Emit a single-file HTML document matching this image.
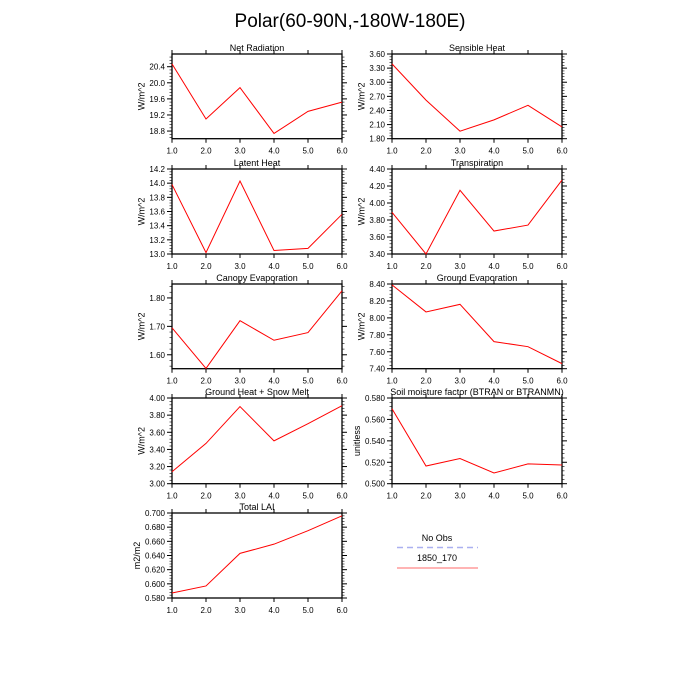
<!DOCTYPE html>
<html><head><meta charset="utf-8"><style>
html,body{margin:0;padding:0;background:#fff;}
svg{display:block;font-family:"Liberation Sans",sans-serif;}
</style></head><body>
<svg id="chart" width="700" height="700" viewBox="0 0 700 700">
<text x="350" y="27" text-anchor="middle" font-size="19">Polar(60-90N,-180W-180E)</text>
<g>
<text x="437" y="541" text-anchor="middle" font-size="9">No Obs</text>
<line x1="397" y1="547.5" x2="478" y2="547.5" stroke="#aab0f0" stroke-width="1.5" stroke-dasharray="6,4"/>
<text x="437" y="561" text-anchor="middle" font-size="9">1850_170</text>
<line x1="397" y1="568" x2="478" y2="568" stroke="#f88" stroke-width="1.2"/>
</g>
</svg>
<script>
const xCats=[1,2,3,4,5,6];
const xTickLabels=["1.0","2.0","3.0","4.0","5.0","6.0"];
const panelTitles=["Net Radiation","Sensible Heat","Latent Heat","Transpiration","Canopy Evaporation","Ground Evaporation","Ground Heat + Snow Melt","Soil moisture factor (BTRAN or BTRANMN)","Total LAI"];
const panelUnits=["W/m^2","W/m^2","W/m^2","W/m^2","W/m^2","W/m^2","W/m^2","unitless","m2/m2"];
const netRad=[20.47,19.10,19.88,18.74,19.29,19.52];
const sensible=[3.39,2.62,1.96,2.20,2.51,2.05];
const latent=[13.98,13.02,14.03,13.05,13.08,13.56];
const transp=[3.89,3.40,4.15,3.67,3.74,4.27];
const canopy=[1.695,1.552,1.720,1.651,1.678,1.825];
const groundEvap=[8.39,8.07,8.16,7.72,7.66,7.46];
const groundHeat=[3.14,3.47,3.90,3.50,3.70,3.91];
const soilMoist=[0.570,0.5165,0.5235,0.510,0.5185,0.5175];
const totalLai=[0.587,0.597,0.643,0.656,0.675,0.696];
const yMins=[18.61,1.80,13.0,3.40,1.551,7.40,3.0,0.50,0.58];
const yMaxs=[20.716,3.60,14.2,4.40,1.849,8.40,4.0,0.58,0.70];
const yTickVals=[[18.8,19.2,19.6,20.0,20.4],[1.8,2.1,2.4,2.7,3.0,3.3,3.6],[13.0,13.2,13.4,13.6,13.8,14.0,14.2],[3.4,3.6,3.8,4.0,4.2,4.4],[1.6,1.7,1.8],[7.4,7.6,7.8,8.0,8.2,8.4],[3.0,3.2,3.4,3.6,3.8,4.0],[0.50,0.52,0.54,0.56,0.58],[0.58,0.60,0.62,0.64,0.66,0.68,0.70]];
const yTickDec=[1,2,1,2,2,2,2,3,3];
const series=[netRad,sensible,latent,transp,canopy,groundEvap,groundHeat,soilMoist,totalLai];
const slugs=["net-radiation","sensible-heat","latent-heat","transpiration","canopy-evaporation","ground-evaporation","ground-heat","soil-moisture","total-lai"];

const svg=document.getElementById('chart');
const NS='http://www.w3.org/2000/svg';
const colX=[[172,342],[392,562]];
const rowY=[[54,138.7],[169,254],[284,368.7],[398,483.7],[513,598]];
function mk(tag,attrs,parent){const e=document.createElementNS(NS,tag);for(const k in attrs)e.setAttribute(k,attrs[k]);parent.appendChild(e);return e;}

for(let p=0;p<9;p++){
  const [x0,x1]=colX[p%2];const [y0,y1]=rowY[Math.floor(p/2)];
  const g=mk('g',{},svg);
  
  
  const sx=v=>x0+(v-1)/5*(x1-x0);
  const sy=v=>y1-(v-yMins[p])/(yMaxs[p]-yMins[p])*(y1-y0);
  const t=mk('text',{x:(x0+x1)/2,y:y0-3,'text-anchor':'middle','font-size':'9'},g);
  t.textContent=panelTitles[p];
  
  
  for(let i=0;i<xCats.length;i++){
    const x=sx(xCats[i]);
    mk('line',{x1:x,y1:y1,x2:x,y2:y1+4,stroke:'#000','stroke-width':1},g);
    mk('line',{x1:x,y1:y0,x2:x,y2:y0-4,stroke:'#000','stroke-width':1},g);
    const tl=mk('text',{x:x,y:y1+15,'text-anchor':'middle','font-size':'8'},g);
    tl.textContent=xTickLabels[i];
    
    
  }
  const tv=yTickVals[p];
  const step=tv[1]-tv[0];
  let maxW=0;
  for(let i=0;i<tv.length;i++){
    const y=sy(tv[i]);
    mk('line',{x1:x0,y1:y,x2:x0-5,y2:y,stroke:'#000','stroke-width':1},g);
    mk('line',{x1:x1,y1:y,x2:x1+5,y2:y,stroke:'#000','stroke-width':1},g);
    const tl=mk('text',{x:x0-7,y:y+3,'text-anchor':'end','font-size':'8'},g);
    tl.textContent=tv[i].toFixed(yTickDec[p]);
    
    
    maxW=Math.max(maxW,tl.getComputedTextLength());
  }
  const yl=mk('text',{x:0,y:0,'text-anchor':'middle','font-size':'9',transform:`translate(${x0-7-maxW-5},${(y0+y1)/2}) rotate(-90)`},g);
  yl.textContent=panelUnits[p];
  
  
  for(let v=tv[0]-step;v<=yMaxs[p]+1e-9;v+=step/5){
    if(v<yMins[p]-1e-9)continue;
    const y=sy(v);
    mk('line',{x1:x0,y1:y,x2:x0-2.5,y2:y,stroke:'#000','stroke-width':0.6},g);
    mk('line',{x1:x1,y1:y,x2:x1+2.5,y2:y,stroke:'#000','stroke-width':0.6},g);
  }
  mk('rect',{x:x0,y:y0,width:x1-x0,height:y1-y0,fill:'none',stroke:'#000','stroke-width':1.3},g);
  const pts=series[p].map((v,i)=>sx(xCats[i])+','+sy(v)).join(' ');
  const pl=mk('polyline',{points:pts,fill:'none',stroke:'#f00','stroke-width':1},g);
  
  
}
</script>
</body></html>
